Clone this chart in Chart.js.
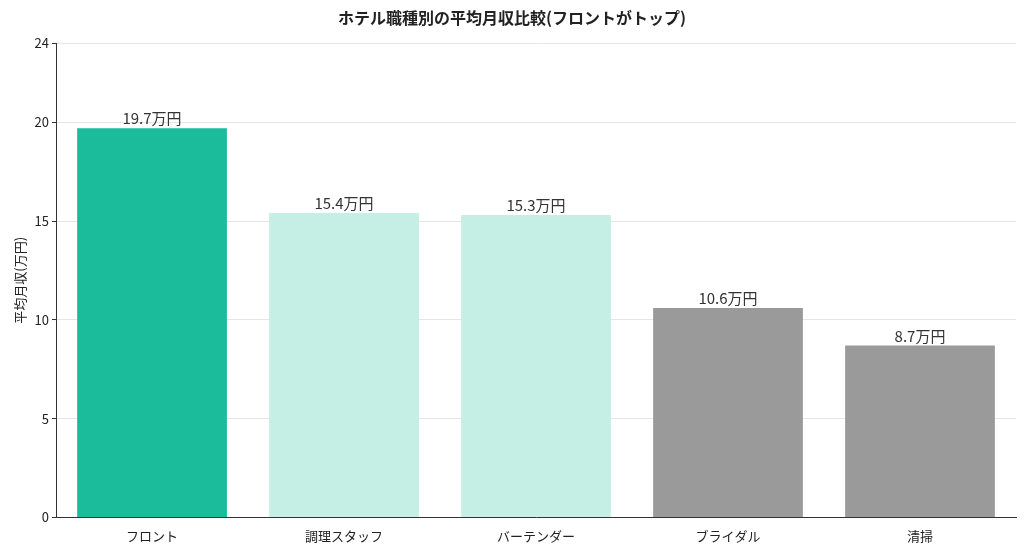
<!DOCTYPE html>
<html><head><meta charset="utf-8">
<script src="https://cdn.jsdelivr.net/npm/chart.js@4/dist/chart.umd.min.js"></script>
<style>html,body{margin:0;background:#fff}#w{width:1024px;height:551px}</style>
</head><body><div id="w"><canvas id="c"></canvas></div>
<script>
const categories = ["フロント","調理スタッフ","バーテンダー","ブライダル","清掃"];
const values = [19.7, 15.4, 15.3, 10.6, 8.7];
const labels = ["19.7万円","15.4万円","15.3万円","10.6万円","8.7万円"];
const colors = ["#1abc9c","#c5efe4","#c5efe4","#9a9a9a","#9a9a9a"];
const FONT = "'Noto Sans CJK JP','Noto Sans',sans-serif";
const valLabels = {
  id:'valLabels',
  afterDatasetsDraw(ch){
    const ctx=ch.ctx, meta=ch.getDatasetMeta(0);
    ctx.save(); ctx.font="15px "+FONT; ctx.fillStyle="#333"; ctx.textAlign="center"; ctx.textBaseline="bottom";
    meta.data.forEach((b,i)=>ctx.fillText(labels[i], b.x, b.y-2));
    ctx.restore();
  }
};
new Chart(document.getElementById('c'),{
  type:'bar',
  data:{labels:categories,datasets:[{data:values,backgroundColor:colors,barPercentage:0.78,categoryPercentage:1}]},
  options:{
    responsive:true,maintainAspectRatio:false,animation:false,
    layout:{padding:{left:8,right:8,top:4,bottom:4}},
    plugins:{legend:{display:false},tooltip:{enabled:false},
      title:{display:true,text:"ホテル職種別の平均月収比較(フロントがトップ)",font:{family:FONT,size:16},color:"#222",padding:{top:4,bottom:16}}},
    scales:{
      x:{grid:{display:false},border:{color:"#333"},ticks:{font:{family:FONT,size:13},color:"#222"}},
      y:{min:0,max:24,ticks:{stepSize:5,font:{family:FONT,size:13},color:"#222"},
        grid:{color:"#e6e6e6",drawTicks:true,tickColor:"#333",tickLength:4},border:{color:"#333"},
        title:{display:true,text:"平均月収(万円)",font:{family:FONT,size:13},color:"#222"}}
    }
  },
  plugins:[valLabels]
});
</script></body></html>
